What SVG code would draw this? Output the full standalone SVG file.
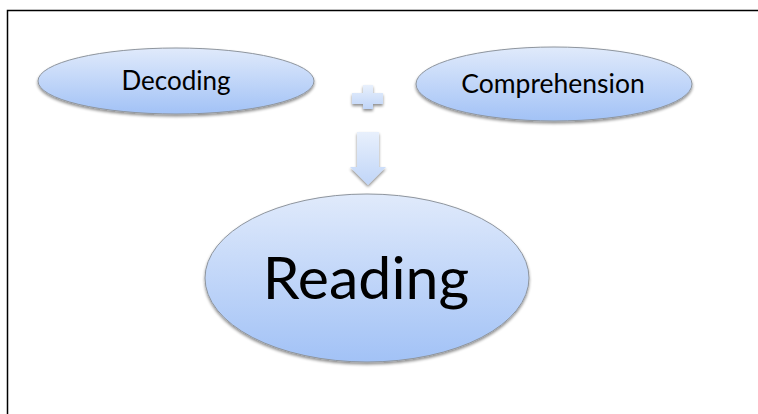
<svg xmlns="http://www.w3.org/2000/svg" width="758" height="414" viewBox="0 0 758 414">
  <defs>
    <linearGradient id="fill" x1="0" y1="0" x2="0" y2="1">
      <stop offset="0" stop-color="#e0eafb"/>
      <stop offset="1" stop-color="#a2c2f6"/>
    </linearGradient>
    <linearGradient id="shapeFill" x1="0" y1="0" x2="0" y2="1">
      <stop offset="0" stop-color="#e8f0fc"/>
      <stop offset="1" stop-color="#c0d5f8"/>
    </linearGradient>
    <filter id="shadow" x="-10%" y="-10%" width="120%" height="130%">
      <feGaussianBlur in="SourceAlpha" stdDeviation="1.5"/>
      <feOffset dx="0" dy="2" result="b"/>
      <feComponentTransfer><feFuncA type="linear" slope="0.45"/></feComponentTransfer>
      <feMerge><feMergeNode/><feMergeNode in="SourceGraphic"/></feMerge>
    </filter>
  </defs>
  <style>
    .node { fill: url(#fill); stroke: #8e959e; stroke-width: 1; filter: url(#shadow); }
    .label { font-family: Lato, "Open Sans", "Liberation Sans", sans-serif; fill: #000; text-anchor: middle; }
    .sym { fill: url(#shapeFill); filter: url(#shadow); }
    .frame { stroke: #000; stroke-width: 1.5; fill: none; }
  </style>
  <rect width="758" height="414" fill="#fff"/>
  <path class="frame" d="M7.5,414 L7.5,10.5 L758,10.5"/>
  <g id="decoding">
    <ellipse class="node" cx="176" cy="81" rx="138" ry="33"/>
    <text class="label" x="176" y="90" font-size="26">Decoding</text>
  </g>
  <g id="comprehension">
    <ellipse class="node" cx="554" cy="84" rx="138" ry="37"/>
    <text class="label" x="553" y="93" font-size="26.5">Comprehension</text>
  </g>
  <g id="reading">
    <ellipse class="node" cx="367" cy="278" rx="162" ry="84"/>
    <text class="label" x="366" y="299" font-size="59">Reading</text>
  </g>
  <g id="connectors">
    <path class="sym" d="M363,85 H373 V93 H383 V104 H373 V109 H363 V104 H352 V93 H363 Z"/>
    <path class="sym" d="M357,132 H379 V167 H386 L368,185 L350,167 H357 Z"/>
  </g>
</svg>
